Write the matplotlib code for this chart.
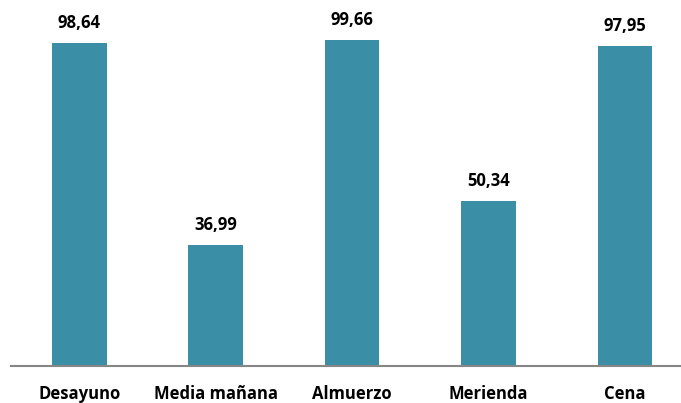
import matplotlib.pyplot as plt

# Data
categories = ["Desayuno", "Media mañana", "Almuerzo", "Merienda", "Cena"]
values = [98.64, 36.99, 99.66, 50.34, 97.95]
value_labels = ["98,64", "36,99", "99,66", "50,34", "97,95"]

BAR_COLOR = "#3A8FA6"


def main():
    plt.rcParams["font.family"] = ["Open Sans", "DejaVu Sans"]
    fig = plt.figure(figsize=(6.81, 4.03), dpi=100)
    ax = fig.add_axes([11 / 681, 37 / 403, 670 / 681, 366 / 403])

    x = list(range(len(categories)))
    bars = ax.bar(x, values, width=0.4, color=BAR_COLOR)

    for bar, lab in zip(bars, value_labels):
        ax.annotate(lab, (bar.get_x() + bar.get_width() / 2, bar.get_height()),
                    xytext=(0, 8), textcoords="offset points",
                    ha="center", va="bottom", fontsize=12, fontweight="bold")

    ax.set_xlim(-0.5, 4.41)
    ax.set_ylim(0, 111.9)
    ax.set_xticks(x)
    ax.set_xticklabels(categories, fontsize=12, fontweight="bold")
    ax.tick_params(axis="x", length=0, pad=14)
    ax.set_yticks([])

    for side in ["top", "right", "left"]:
        ax.spines[side].set_visible(False)
    ax.spines["bottom"].set_color("#868686")
    ax.spines["bottom"].set_linewidth(1.5)

    fig.savefig("out.png", dpi=100)
    plt.close(fig)


if __name__ == "__main__":
    main()
